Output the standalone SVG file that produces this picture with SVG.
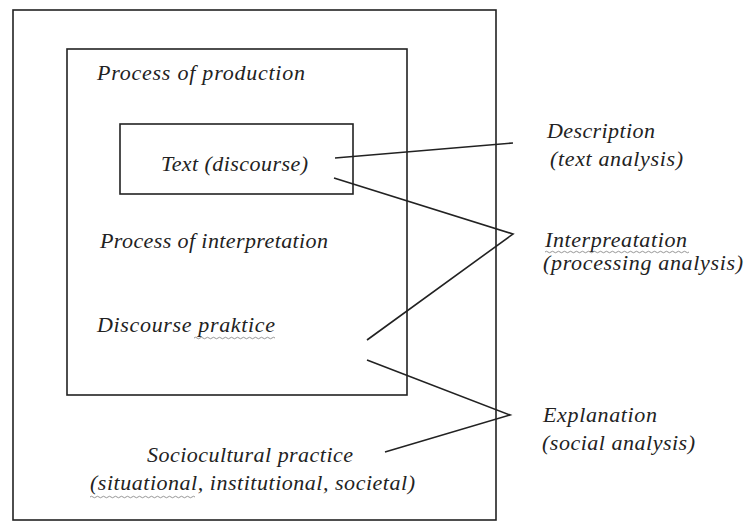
<svg xmlns="http://www.w3.org/2000/svg" width="745" height="528" viewBox="0 0 745 528">
<style>
.box{fill:none;stroke:#222;stroke-width:1.6}
.conn{fill:none;stroke:#222;stroke-width:1.6;stroke-linejoin:miter}
.t{font-family:"Liberation Serif","Times New Roman",serif;font-style:italic;font-size:22px;fill:#222}
.sq{fill:none;stroke:#8a8a8a;stroke-width:0.9}
</style>
<rect width="745" height="528" fill="#fff"/>
<g id="outer-box">
<rect class="box" x="13" y="10" width="483" height="510"/>
<text class="t" x="147" y="462" textLength="206" lengthAdjust="spacing">Sociocultural practice</text>
<text class="t" x="90" y="490" textLength="325" lengthAdjust="spacing">(situational, institutional, societal)</text>
<path class="sq" d="M90,497 q1.5,-1.5 3,0 t3,0 t3,0 t3,0 t3,0 t3,0 t3,0 t3,0 t3,0 t3,0 t3,0 t3,0 t3,0 t3,0 t3,0 t3,0 t3,0 t3,0 t3,0 t3,0 t3,0 t3,0 t3,0 t3,0 t3,0 t3,0 t3,0 t3,0 t3,0 t3,0 t3,0 t3,0 t3,0 t3,0 t3,0"/>
</g>
<g id="inner-box">
<rect class="box" x="67" y="49" width="340" height="346"/>
<text class="t" x="97" y="80" textLength="208" lengthAdjust="spacing">Process of production</text>
<text class="t" x="100" y="248" textLength="228" lengthAdjust="spacing">Process of interpretation</text>
<text class="t" x="97" y="332" textLength="178" lengthAdjust="spacing">Discourse praktice</text>
<path class="sq" d="M194,338 q1.5,-1.5 3,0 t3,0 t3,0 t3,0 t3,0 t3,0 t3,0 t3,0 t3,0 t3,0 t3,0 t3,0 t3,0 t3,0 t3,0 t3,0 t3,0 t3,0 t3,0 t3,0 t3,0 t3,0 t3,0 t3,0 t3,0 t3,0 t3,0"/>
</g>
<g id="text-box">
<rect class="box" x="120" y="124" width="233" height="70"/>
<text class="t" x="161" y="171" textLength="147" lengthAdjust="spacing">Text (discourse)</text>
</g>
<g id="description">
<text class="t" x="547" y="138" textLength="108" lengthAdjust="spacing">Description</text>
<text class="t" x="550" y="166" textLength="133" lengthAdjust="spacing">(text analysis)</text>
</g>
<g id="interpretation">
<text class="t" x="545" y="247" textLength="142" lengthAdjust="spacing">Interpreatation</text>
<path class="sq" d="M545,252 q1.5,-1.5 3,0 t3,0 t3,0 t3,0 t3,0 t3,0 t3,0 t3,0 t3,0 t3,0 t3,0 t3,0 t3,0 t3,0 t3,0 t3,0 t3,0 t3,0 t3,0 t3,0 t3,0 t3,0 t3,0 t3,0 t3,0 t3,0 t3,0 t3,0 t3,0 t3,0 t3,0 t3,0 t3,0 t3,0 t3,0 t3,0 t3,0 t3,0 t3,0 t3,0 t3,0 t3,0 t3,0 t3,0 t3,0 t3,0 t3,0 t3,0"/>
<text class="t" x="543" y="270" textLength="200" lengthAdjust="spacing">(processing analysis)</text>
</g>
<g id="explanation">
<text class="t" x="543" y="422" textLength="114" lengthAdjust="spacing">Explanation</text>
<text class="t" x="542" y="450" textLength="153" lengthAdjust="spacing">(social analysis)</text>
</g>
<g id="connectors">
<path class="conn" d="M335,158 L513,143"/>
<path class="conn" d="M334,178 L513,234 L367,340"/>
<path class="conn" d="M367,360 L510,415 L385,452"/>
</g>
</svg>
